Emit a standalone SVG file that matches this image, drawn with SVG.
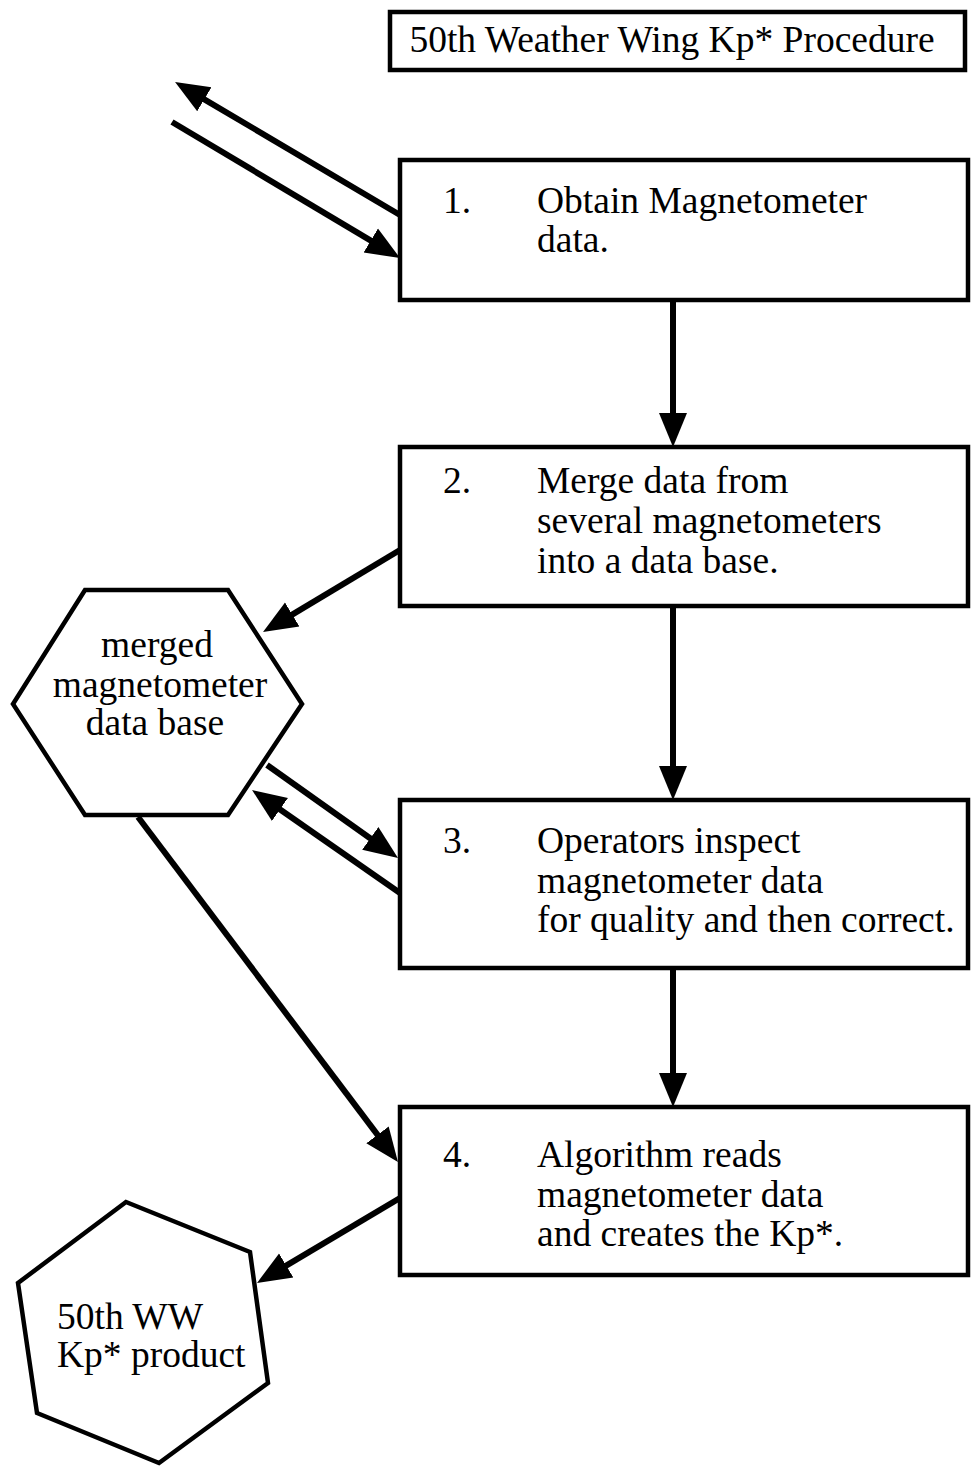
<svg xmlns="http://www.w3.org/2000/svg" width="971" height="1473" viewBox="0 0 971 1473">
<style>
.box{fill:#fff;stroke:#000;stroke-width:4.5}
.t{font-family:"Liberation Serif","Times New Roman",serif;font-size:37.5px;fill:#000}
.c{text-anchor:middle}
.a{stroke:#000;stroke-width:6;fill:none;marker-end:url(#ah)}
</style>
<defs>
<marker id="ah" markerUnits="userSpaceOnUse" markerWidth="36" markerHeight="30" refX="2" refY="14" orient="auto" viewBox="0 0 36 28">
<path d="M0,0 L34,14 L0,28 z" fill="#000"/>
</marker>
</defs>
<rect width="971" height="1473" fill="#fff"/>
<g id="title">
<rect class="box" x="390" y="12" width="575" height="58" stroke-width="4"/>
<text class="t c" x="672" y="52" font-size="36">50th Weather Wing Kp* Procedure</text>
</g>
<g id="step1">
<rect class="box" x="400" y="160" width="568" height="140"/>
<text class="t" x="443" y="213">1.</text>
<text class="t" x="537" y="213">Obtain Magnetometer</text>
<text class="t" x="537" y="252">data.</text>
</g>
<g id="step2">
<rect class="box" x="400" y="447" width="568" height="159"/>
<text class="t" x="443" y="493">2.</text>
<text class="t" x="537" y="493">Merge data from</text>
<text class="t" x="537" y="533">several magnetometers</text>
<text class="t" x="537" y="573">into a data base.</text>
</g>
<g id="step3">
<rect class="box" x="400" y="800" width="568" height="168"/>
<text class="t" x="443" y="853">3.</text>
<text class="t" x="537" y="853">Operators inspect</text>
<text class="t" x="537" y="893">magnetometer data</text>
<text class="t" x="537" y="932">for quality and then correct.</text>
</g>
<g id="step4">
<rect class="box" x="400" y="1107" width="568" height="168"/>
<text class="t" x="443" y="1167">4.</text>
<text class="t" x="537" y="1167">Algorithm reads</text>
<text class="t" x="537" y="1207">magnetometer data</text>
<text class="t" x="537" y="1246">and creates the Kp*.</text>
</g>
<g id="database">
<polygon class="box" points="85,590 228,590 302,704 228,815 85,815 13,704"/>
<text class="t c" x="157" y="657">merged</text>
<text class="t c" x="160" y="697">magnetometer</text>
<text class="t c" x="155" y="735">data base</text>
</g>
<g id="product">
<polygon class="box" points="126,1202 250,1252 268,1383 159,1463 37,1413 18,1283"/>
<text class="t" x="57" y="1329">50th WW</text>
<text class="t" x="57" y="1367">Kp* product</text>
</g>
<g id="connectors">
<line class="a" x1="673" y1="300" x2="673" y2="415"/>
<line class="a" x1="673" y1="606" x2="673" y2="768"/>
<line class="a" x1="673" y1="968" x2="673" y2="1075"/>
<line class="a" x1="400" y1="215" x2="202.6" y2="98.3"/>
<line class="a" x1="172" y1="122" x2="372.5" y2="241.6"/>
<line class="a" x1="400" y1="550" x2="290.5" y2="615.6"/>
<line class="a" x1="267" y1="765" x2="371.9" y2="839.5"/>
<line class="a" x1="400" y1="893" x2="278.3" y2="808.3"/>
<line class="a" x1="138" y1="817" x2="378.7" y2="1136.4"/>
<line class="a" x1="400" y1="1198" x2="284.5" y2="1266.6"/>
</g>
</svg>
